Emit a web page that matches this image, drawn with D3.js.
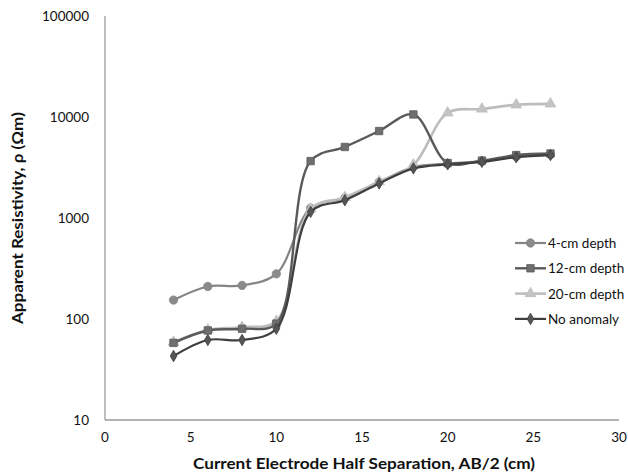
<!DOCTYPE html>
<html>
<head>
<meta charset="utf-8">
<script src="https://cdn.jsdelivr.net/npm/d3@7"></script>
<style>
  body { margin: 0; background: #fff; }
  text { font-family: Lato, "Open Sans", sans-serif; fill: #111; }
</style>
</head>
<body>
<div id="container"></div>
<script>
// spacing AB/2 (cm)
var spacing = [4, 6, 8, 10, 12, 14, 16, 18, 20, 22, 24, 26]

var depth4 = [154, 210, 215, 280, 1250, 1580, 2270, 3200, 3450, 3650, 4050, 4250]
var depth12 = [58, 77, 80, 90, 3660, 5050, 7260, 10600, 3500, 3700, 4200, 4350]
var depth20 = [59, 78, 83, 95, 1230, 1600, 2300, 3350, 11000, 12000, 13200, 13500]
var noAnomaly = [43, 62, 62, 80, 1150, 1500, 2200, 3100, 3400, 3600, 4000, 4200]

var seriesNames = ["4-cm depth", "12-cm depth", "20-cm depth", "No anomaly"]
var xTicks = [0, 5, 10, 15, 20, 25, 30]
var yTicks = [10, 100, 1000, 10000, 100000]

var width = 628, height = 474

var svg = d3.select("#container").append("svg")
    .attr("width", width)
    .attr("height", height)

var x = d3.scaleLinear().domain([0, 30]).range([105, 619])
var y = d3.scaleLog().domain([10, 100000]).range([420, 16])

// axes - excel style, no tick marks
svg.append("line")
    .attr("x1", x(0)).attr("x2", x(0))
    .attr("y1", y(100000)).attr("y2", y(10))
    .attr("stroke", "#9a9a9a").attr("stroke-width", 1.3)
svg.append("line")
    .attr("x1", x(0)).attr("x2", x(30))
    .attr("y1", y(10)).attr("y2", y(10))
    .attr("stroke", "#9a9a9a").attr("stroke-width", 1.3)

svg.append("g").selectAll("text")
    .data(yTicks)
    .enter().append("text")
      .attr("x", 89)
      .attr("y", (d) => y(d) + 5)
      .attr("text-anchor", "end")
      .attr("font-size", 13.5)
      .text((d) => d)

svg.append("g").selectAll("text")
    .data(xTicks)
    .enter().append("text")
      .attr("x", (d) => x(d))
      .attr("y", 442)
      .attr("text-anchor", "middle")
      .attr("font-size", 13.5)
      .text((d) => d)

svg.append("text")
    .attr("x", 364)
    .attr("y", 469)
    .attr("text-anchor", "middle")
    .attr("font-size", 14.5)
    .attr("font-weight", "bold")
    .attr("textLength", 342)
    .attr("lengthAdjust", "spacingAndGlyphs")
    .text("Current Electrode Half Separation, AB/2 (cm)")

svg.append("text")
    .attr("transform", "translate(23,218) rotate(-90)")
    .attr("text-anchor", "middle")
    .attr("font-size", 14.5)
    .attr("font-weight", "bold")
    .attr("textLength", 212)
    .attr("lengthAdjust", "spacingAndGlyphs")
    .text("Apparent Resistivity, ρ (Ωm)")

var series = [
  { name: seriesNames[0], values: depth4, color: "#858585", mark: "#8a8a8a", sym: d3.symbolCircle, size: 55, w: 2.2 },
  { name: seriesNames[2], values: depth20, color: "#bdbdbd", mark: "#c4c4c4", sym: d3.symbolTriangle, size: 50, w: 2.6 },
  { name: seriesNames[1], values: depth12, color: "#5a5a5a", mark: "#6e6e6e", sym: d3.symbolSquare, size: 55, w: 2.4 },
  { name: seriesNames[3], values: noAnomaly, color: "#3e3e3e", mark: "#555", sym: d3.symbolDiamond, size: 38, w: 2.2 }
]

var line = d3.line()
    .x((d) => x(d[0]))
    .y((d) => y(d[1]))
    .curve(d3.curveCatmullRom.alpha(0.5))

var g = svg.append("g")

series.forEach(function(s) {
  var pts = spacing.map((v, i) => [v, s.values[i]])
  g.append("path")
      .attr("d", line(pts))
      .attr("fill", "none")
      .attr("stroke", s.color)
      .attr("stroke-width", s.w)
  g.append("g").selectAll("path")
      .data(pts)
      .enter().append("path")
        .attr("d", d3.symbol().type(s.sym).size(s.size))
        .attr("transform", (d) => "translate(" + x(d[0]) + "," + y(d[1]) + ")")
        .attr("fill", s.mark)
        .attr("stroke", s.color)
        .attr("stroke-width", 0.8)
})

// legend
var legendOrder = [series[0], series[2], series[1], series[3]]
var legend = svg.append("g").selectAll("g")
    .data(legendOrder)
    .enter().append("g")
      .attr("transform", (d, i) => "translate(515," + (243 + i * 25.3) + ")")

legend.append("line")
    .attr("x1", 0).attr("x2", 31)
    .attr("stroke", (d) => d.color)
    .attr("stroke-width", (d) => d.w)
legend.append("path")
    .attr("d", (d) => d3.symbol().type(d.sym).size(d.size)())
    .attr("transform", "translate(15.5,0)")
    .attr("fill", (d) => d.mark)
    .attr("stroke", (d) => d.color)
    .attr("stroke-width", 0.8)
legend.append("text")
    .attr("x", 33)
    .attr("y", 5)
    .attr("font-size", 13.5)
    .text((d) => d.name)
</script>
</body>
</html>
